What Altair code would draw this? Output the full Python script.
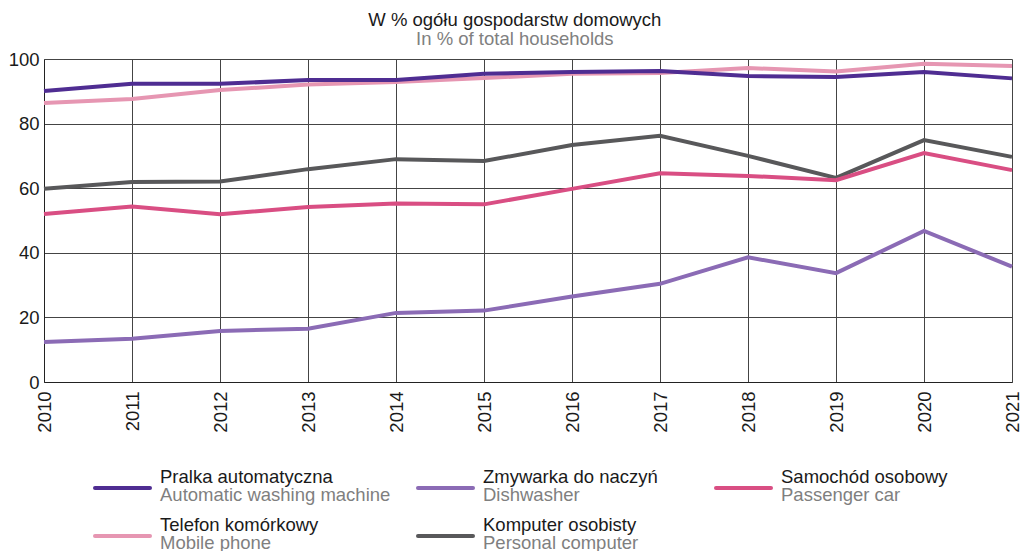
import altair as alt
import pandas as pd

years = list(range(2010, 2022))

pralka = [90.1, 92.3, 92.3, 93.5, 93.5, 95.4, 96.0, 96.3, 94.7, 94.4, 96.0, 94.0]
zmywarka = [12.4, 13.4, 15.8, 16.5, 21.4, 22.1, 26.5, 30.4, 38.6, 33.7, 46.8, 35.7]
samochod = [52.0, 54.3, 51.9, 54.2, 55.3, 55.0, 59.8, 64.6, 63.8, 62.5, 70.9, 65.6]
telefon = [86.4, 87.6, 90.4, 92.1, 92.9, 94.1, 95.4, 95.7, 97.2, 96.1, 98.5, 97.8]
komputer = [59.8, 61.9, 62.1, 65.9, 69.0, 68.4, 73.4, 76.2, 70.0, 63.2, 74.9, 69.7]

series_pl = ["Pralka automatyczna", "Zmywarka do naczyń", "Samochód osobowy",
             "Telefon komórkowy", "Komputer osobisty"]
series_en = ["Automatic washing machine", "Dishwasher", "Passenger car",
             "Mobile phone", "Personal computer"]
series_vals = [pralka, zmywarka, samochod, telefon, komputer]
colors = ["#4F2D92", "#8B6BB5", "#D94E83", "#E696B2", "#58585A"]
legend_col = [0, 1, 2, 0, 1]
legend_row = [0, 0, 0, 1, 1]
draw_order = [3, 4, 2, 1, 0]

rows = []
for i in draw_order:
    for yr, v in zip(years, series_vals[i]):
        rows.append({"year": yr, "value": v, "series": series_pl[i]})
df = pd.DataFrame(rows)

leg_df = pd.DataFrame({
    "pl": series_pl, "en": series_en, "col": legend_col, "row": legend_row,
})

FONT = "Liberation Sans"
FS = 18.5
W = 968
color_scale = alt.Scale(domain=series_pl, range=colors)

main = alt.Chart(df).mark_line(strokeWidth=4).encode(
    x=alt.X("year:Q",
            scale=alt.Scale(domain=[2010, 2021], nice=False, zero=False),
            axis=alt.Axis(values=years, format="d", labelAngle=270,
                          labelAlign="right", labelBaseline="middle",
                          ticks=False, labelPadding=9, grid=True, title=None,
                          labelFontSize=FS, labelColor="#1a1a1a",
                          domainColor="#222222", gridColor="#444444",
                          labelFont=FONT)),
    y=alt.Y("value:Q",
            scale=alt.Scale(domain=[0, 100], nice=False),
            axis=alt.Axis(values=[0, 20, 40, 60, 80, 100], ticks=False,
                          labelPadding=5, grid=True, title=None,
                          labelFontSize=FS, labelColor="#1a1a1a",
                          domainColor="#222222", gridColor="#444444",
                          labelFont=FONT)),
    color=alt.Color("series:N", scale=color_scale, legend=None),
    detail="series:N",
).properties(width=W, height=323)

leg_base = alt.Chart(leg_df).encode(
    x=alt.X("col:Q", scale=alt.Scale(domain=[0, 1, 2], range=[51, 374, 672]),
            axis=None),
    y=alt.Y("row:Q", scale=alt.Scale(domain=[0, 1], reverse=True), axis=None),
)
leg_lines = leg_base.mark_rule(strokeWidth=4, strokeCap="round", x2Offset=55).encode(
    x2="col:Q",
    color=alt.Color("pl:N", scale=color_scale, legend=None),
)
leg_pl = leg_base.mark_text(align="left", baseline="middle", dx=65, dy=-11,
                            fontSize=FS, color="#1a1a1a", font=FONT).encode(text="pl:N")
leg_en = leg_base.mark_text(align="left", baseline="middle", dx=65, dy=7,
                            fontSize=FS, color="#7f7f7f", font=FONT).encode(text="en:N")
legend = alt.layer(leg_lines, leg_pl, leg_en).properties(width=W, height=48)

chart = alt.vconcat(main, legend, spacing=35).properties(
    title=alt.TitleParams(text="W % ogółu gospodarstw domowych",
                          subtitle="In % of total households",
                          fontSize=FS, subtitleFontSize=FS, font=FONT,
                          subtitleFont=FONT, fontWeight="normal",
                          color="#1a1a1a", subtitleColor="#808080",
                          anchor="middle", offset=2, subtitlePadding=0),
    padding={"left": 0, "top": 3, "right": 0, "bottom": 0},
).configure(font=FONT).configure_view(strokeWidth=0, stroke=None)

chart.save("out.html", embed_options={"renderer": "svg", "actions": False})
